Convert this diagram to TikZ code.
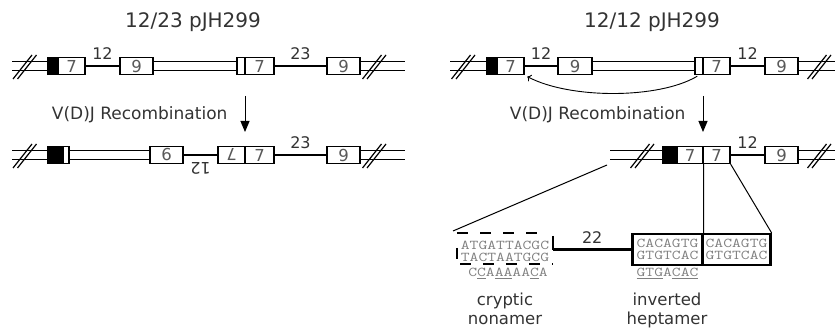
\documentclass[tikz,border=0pt]{standalone}
\usepackage{fontspec}
\setmainfont{DejaVu Sans}
\usepackage{graphicx}
\usetikzlibrary{arrows.meta}

% sequence text, Courier-like
\newcommand{\seq}[1]{\scalebox{1.27}[1]{\ttfamily\fontsize{13.5}{12}\selectfont #1}}
% break mark on a duplex
\newcommand{\brk}[2]{%
  \draw[line width=1.2pt] (#1-9.5,#2+13) -- (#1+9.5,#2-11) (#1-5,#2+13) -- (#1+14,#2-11);}

\begin{document}
\begin{tikzpicture}[x=1pt, y=-1pt,
    every node/.style={font=\fontsize{17}{19}\selectfont, text=black!80},
    box/.style={draw=black, line width=1.3pt, fill=white, minimum height=17pt, inner sep=0pt, text=black!65, font=\fontsize{16.5}{18}\selectfont},
    blk/.style={box, fill=black},
    duplex/.style={double, double distance=7.8pt, line width=1.3pt},
    spacer/.style={line width=2.2pt},
    num/.style={font=\fontsize{16}{18}\selectfont, inner sep=0pt, above=5pt},
    flip/.style={rotate=180},
    recomb/.style={-{Triangle[length=11pt,width=9pt]}, line width=1pt},
    hept/.style={draw=black, line width=2.2pt, minimum height=31pt, inner sep=0pt, align=center, font=\fontsize{13.5}{12}\selectfont, text=black!50},
    seqtxt/.style={inner sep=0pt, align=center, font=\fontsize{13.5}{12}\selectfont, text=black!50},
    caption/.style={inner sep=0pt, anchor=north, align=center, font=\fontsize{16.5}{19}\selectfont}]
\useasboundingbox (0,0) rectangle (835,328);

% ---- 12/23 pJH299 ----
\node[anchor=base, font=\fontsize{20}{22}\selectfont] (ttlL) at (193,28) {12/23 pJH299};

\node[blk, minimum width=10pt] (tlK) at (53,66) {};
\node[box, minimum width=27pt] (tlA) at (71.5,66) {7};
\node[box, minimum width=33pt] (tlB) at (136.5,66) {9};
\node[box, minimum width=8pt] (tlS) at (241,66) {};
\node[box, minimum width=29pt] (tlC) at (259.5,66) {7};
\node[box, minimum width=33pt] (tlD) at (343.5,66) {9};
\draw[duplex] (12,66) -- (tlK);
\draw[duplex] (tlB) -- (tlS);
\draw[duplex] (tlD) -- (405,66);
\draw[spacer] (tlA) -- node[num] (tl12) {12} (tlB);
\draw[spacer] (tlC) -- node[num] (tl23) {23} (tlD);
\brk{22.5}{66}
\brk{372}{66}

\coordinate (laT) at (245,96);
\coordinate (laB) at (245,132);
\draw[recomb] (laT) -- (laB);
\node[anchor=base east] (rcL) at (231,120) {V(D)J Recombination};

\node[blk, minimum width=15pt] (blK) at (55.5,155) {};
\node[box, minimum width=6pt] (blS) at (66,155) {};
\node[box, flip, minimum width=33pt] (blB) at (166.5,155) {9};
\node[box, flip, minimum width=27pt] (blA) at (231.5,155) {7};
\node[box, minimum width=29pt] (blC) at (259.5,155) {7};
\node[box, minimum width=33pt] (blD) at (343.5,155) {9};
\draw[duplex] (12,155) -- (blK);
\draw[duplex] (blS) -- (blB);
\draw[duplex] (blD) -- (405,155);
\draw[spacer] (blB) -- node[inner sep=0pt, yshift=-13pt, flip, font=\fontsize{16}{18}\selectfont] (bl12) {12} (blA);
\draw[spacer] (blC) -- node[num] (bl23) {23} (blD);
\brk{22.5}{155}
\brk{372}{155}

% ---- 12/12 pJH299 ----
\node[anchor=base, font=\fontsize{20}{22}\selectfont] (ttlR) at (652,28) {12/12 pJH299};

\node[blk, minimum width=10pt] (trK) at (492,66) {};
\node[box, minimum width=27pt] (trA) at (510.5,66) {7};
\node[box, minimum width=34pt] (trB) at (575,66) {9};
\node[box, minimum width=8pt] (trS) at (699,66) {};
\node[box, minimum width=27pt] (trC) at (716.5,66) {7};
\node[box, minimum width=33pt] (trD) at (781.5,66) {9};
\draw[duplex] (450,66) -- (trK);
\draw[duplex] (trB) -- (trS);
\draw[duplex] (trD) -- (835,66);
\draw[spacer] (trA) -- node[num] (tr12a) {12} (trB);
\draw[spacer] (trC) -- node[num] (tr12b) {12} (trD);
\brk{461}{66}
\brk{817}{66}
\draw[line width=0.9pt, ->, shorten <=2pt, shorten >=3pt]
  (trS.south) .. controls +(-40,24) and +(45,24) .. (trA.south east);

\coordinate (raT) at (703,96);
\coordinate (raB) at (703,132);
\draw[recomb] (raT) -- (raB);
\node[anchor=base east] (rcR) at (689,120) {V(D)J Recombination};

\node[blk, minimum width=14pt] (brK) at (670,155) {};
\node[box, minimum width=26pt] (brA) at (690,155) {7};
\node[box, minimum width=27pt] (brC) at (716.5,155) {7};
\node[box, minimum width=33pt] (brD) at (781.5,155) {9};
\draw[duplex] (610,155) -- (brK);
\draw[duplex] (brD) -- (835,155);
\draw[spacer] (brC) -- node[num] (br12) {12} (brD);
\brk{640}{155}
\brk{817}{155}

% ---- close-up of the joint ----
\node[hept, minimum width=70pt] (hepA) at (667.5,249.5) {\seq{CACAGTG}\\\seq{GTGTCAC}};
\node[hept, minimum width=68pt] (hepB) at (736.5,249.5) {\seq{CACAGTG}\\\seq{GTGTCAC}};
\node[seqtxt] (non) at (505,251) {\seq{ATGATTACGC}\\\seq{TACTAATGCG}};
\draw[line width=2.2pt, dash pattern=on 11pt off 12pt] (457,233) -- (546,233);
\draw[line width=2.2pt, dash pattern=on 11pt off 12pt] (460,264) -- (553,264);
\draw[line width=2.2pt] (457,248) -- (457,259);
\draw[line width=2.2pt] (553,236) -- (553,250);
\coordinate (nonR) at (553,249.5);
\draw[line width=2.5pt] (nonR) -- node[num] (sp22) {22} (hepA.west);

\coordinate (brO) at (607,165);
\coordinate (nonTL) at (453,231);
\draw[line width=1pt] (brO) -- (nonTL);
\draw[line width=1pt] (brA.south east) -- (hepA.north east);
\draw[line width=1pt] (brC.south east) -- (hepB.north east);

\node[seqtxt, anchor=base] (nonB) at (508,277) {\seq{C\underline{C}A\underline{AA}AA\underline{C}A}};
\node[seqtxt, anchor=base] (hepC) at (667.5,277) {\seq{\underline{GTG}A\underline{CAC}}};

\node[caption] (capN) at (505,293) {cryptic\\nonamer};
\node[caption] (capH) at (667,293) {inverted\\heptamer};
\end{tikzpicture}
\end{document}
